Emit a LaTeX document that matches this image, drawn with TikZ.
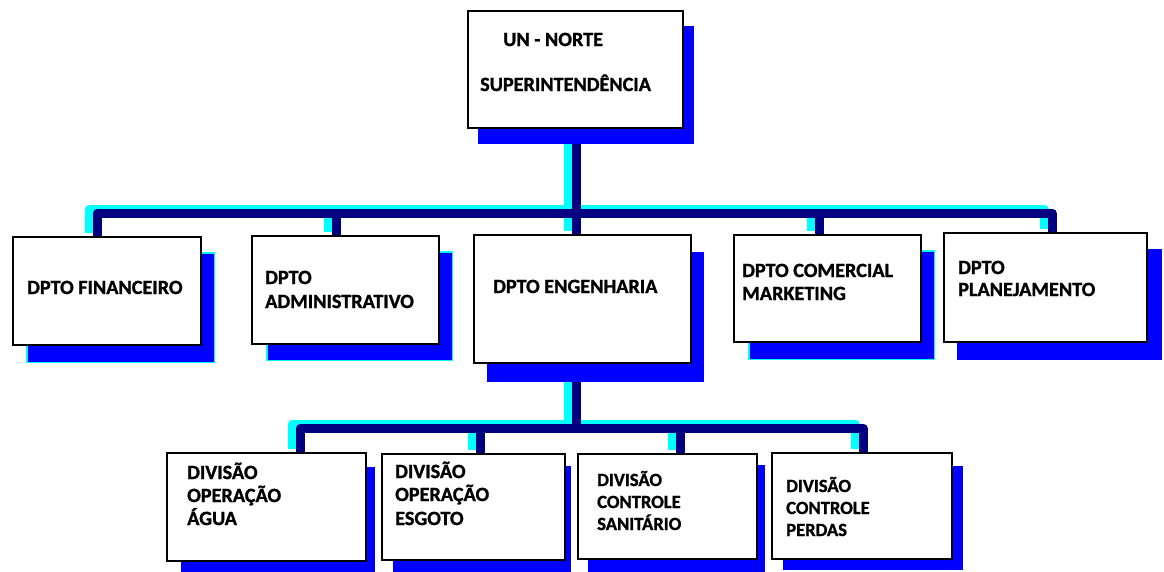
\documentclass[tikz,border=0pt]{standalone}
\usepackage{fontspec}
\setmainfont{Carlito}[BoldFeatures={FakeBold=1.2}]
\definecolor{navyline}{RGB}{0,0,128}
\definecolor{shadowblue}{RGB}{0,0,255}
\definecolor{cyanline}{RGB}{0,255,255}
\tikzset{
  orgbox/.style={draw=black, line width=2.2pt, fill=white, inner sep=0pt, anchor=north west},
  conn/.style={draw=navyline, line width=9pt, line join=round},
  connshade/.style={draw=cyanline, line width=9pt, line join=round},
  shade/.style={fill=shadowblue},
  shadecy/.style={fill=shadowblue, draw=cyanline, line width=1.2pt},
  lbl/.style={inner sep=0pt, anchor=base west, font=\fontsize{20.2}{21}\selectfont\bfseries},
  lbls/.style={inner sep=0pt, anchor=base west, font=\fontsize{18.6}{19}\selectfont\bfseries}
}
\begin{document}
\begin{tikzpicture}[x=1pt,y=-1pt]
\useasboundingbox[fill=white] (0,0) rectangle (1164,571);

% box geometry (nodes, drawn later on top, but defined first for names)
\path
  node[orgbox, minimum width=213pt, minimum height=115pt] (top) at (468,11) {}
  node[orgbox, minimum width=186pt, minimum height=106pt] (fin) at (13,237) {}
  node[orgbox, minimum width=185pt, minimum height=106pt] (adm) at (252,236) {}
  node[orgbox, minimum width=215pt, minimum height=126pt] (eng) at (474,235) {}
  node[orgbox, minimum width=185pt, minimum height=105pt] (com) at (734,235) {}
  node[orgbox, minimum width=201pt, minimum height=107pt] (plan) at (944,233) {}
  node[orgbox, minimum width=197pt, minimum height=106pt] (agua) at (167,453) {}
  node[orgbox, minimum width=181pt, minimum height=104pt] (esg) at (382,454) {}
  node[orgbox, minimum width=177pt, minimum height=103pt] (san) at (578,454) {}
  node[orgbox, minimum width=178pt, minimum height=104pt] (perd) at (772,453) {};

\coordinate (bus1) at (576,213);
\coordinate (bus2) at (576,428);

% cyan shading of connectors
\begin{scope}[transform canvas={xshift=-8pt,yshift=4pt}]
  \draw[connshade] (bus1 |- top.south) -- (bus1);
  \draw[connshade] ([xshift=84pt]fin.north west) |- (bus1) -| ([xshift=108pt]plan.north west);
  \draw[connshade] ([xshift=84pt]adm.north west) |- (bus1);
  \draw[connshade] ([xshift=85pt]com.north west) |- (bus1);
  \draw[connshade] (bus1) -- (bus1 |- eng.north);
  \draw[connshade] (bus2 |- eng.south) -- (bus2);
  \draw[connshade] ([xshift=133pt]agua.north west) |- (bus2) -| ([xshift=91pt]perd.north west);
  \draw[connshade] ([xshift=98pt]esg.north west) |- (bus2);
  \draw[connshade] ([xshift=102pt]san.north west) |- (bus2);
\end{scope}

% navy connectors
\draw[conn] (bus1 |- top.south) -- (bus1);
\draw[conn] ([xshift=84pt]fin.north west) |- (bus1) -| ([xshift=108pt]plan.north west);
\draw[conn] ([xshift=84pt]adm.north west) |- (bus1);
\draw[conn] ([xshift=85pt]com.north west) |- (bus1);
\draw[conn] (bus1) -- (bus1 |- eng.north);
\draw[conn] (bus2 |- eng.south) -- (bus2);
\draw[conn] ([xshift=133pt]agua.north west) |- (bus2) -| ([xshift=91pt]perd.north west);
\draw[conn] ([xshift=98pt]esg.north west) |- (bus2);
\draw[conn] ([xshift=102pt]san.north west) |- (bus2);

% shadows
\fill[shade]   ([shift={(10,15)}]top.north west) rectangle ([shift={(11,16)}]top.south east);
\path[shadecy] ([shift={(14,16)}]fin.north west) rectangle ([shift={(13,17)}]fin.south east);
\path[shadecy] ([shift={(15,16)}]adm.north west) rectangle ([shift={(13,16)}]adm.south east);
\fill[shade]   ([shift={(13,17)}]eng.north west) rectangle ([shift={(13,19)}]eng.south east);
\path[shadecy] ([shift={(15,16)}]com.north west) rectangle ([shift={(13,17)}]com.south east);
\fill[shade]   ([shift={(13,16)}]plan.north west) rectangle ([shift={(15,18)}]plan.south east);
\fill[shade]   ([shift={(14,14)}]agua.north west) rectangle ([shift={(9,18)}]agua.south east);
\fill[shade]   ([shift={(11,12)}]esg.north west) rectangle ([shift={(6,18)}]esg.south east);
\fill[shade]   ([shift={(10,11)}]san.north west) rectangle ([shift={(8,18)}]san.south east);
\fill[shade]   ([shift={(11,13)}]perd.north west) rectangle ([shift={(11,11)}]perd.south east);

% boxes redrawn on top
\foreach \b in {top,fin,adm,eng,com,plan,agua,esg,san,perd}{
  \draw[black, line width=2.2pt, fill=white] (\b.north west) rectangle (\b.south east);
}

% labels
\node[lbl] (t1) at (503,46) {UN - NORTE};
\node[lbl] (t2) at (480,91) {SUPERINTENDÊNCIA};
\node[lbl] (f1) at (27,294) {DPTO FINANCEIRO};
\node[lbl] (a1) at (265,284) {DPTO};
\node[lbl] (a2) at (265,308) {ADMINISTRATIVO};
\node[lbl] (e1) at (493,293) {DPTO ENGENHARIA};
\node[lbl] (c1) at (742,277) {DPTO COMERCIAL};
\node[lbl] (c2) at (742,300) {MARKETING};
\node[lbl] (p1) at (958,274) {DPTO};
\node[lbl] (p2) at (958,296) {PLANEJAMENTO};
\node[lbl] (g1) at (187,479) {DIVISÃO};
\node[lbl] (g2) at (187,502) {OPERAÇÃO};
\node[lbl] (g3) at (187,525) {ÁGUA};
\node[lbl] (s1) at (395,478) {DIVISÃO};
\node[lbl] (s2) at (395,501) {OPERAÇÃO};
\node[lbl] (s3) at (395,525) {ESGOTO};
\node[lbls] (n1) at (597,486) {DIVISÃO};
\node[lbls] (n2) at (597,508) {CONTROLE};
\node[lbls] (n3) at (597,530) {SANITÁRIO};
\node[lbls] (d1) at (786,492) {DIVISÃO};
\node[lbls] (d2) at (786,514) {CONTROLE};
\node[lbls] (d3) at (786,536) {PERDAS};
\end{tikzpicture}
\end{document}
